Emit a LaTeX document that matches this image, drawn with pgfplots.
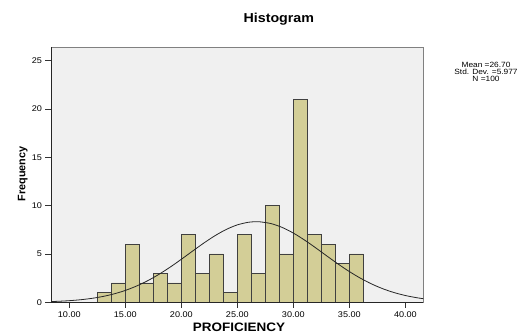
\documentclass[border=0pt]{standalone}
\usepackage{pgfplots}
\pgfplotsset{compat=1.18}
\usepackage{fontspec}
\setmainfont{Liberation Sans}[FakeStretch=1.1]
\newfontfamily\plainsans{Liberation Sans}
\definecolor{barfill}{RGB}{211,206,151}
\definecolor{plotbg}{RGB}{240,240,240}
\begin{document}
\begin{tikzpicture}
\useasboundingbox (0,0) rectangle (528bp,336bp);
\begin{axis}[
  at={(51bp,33.7bp)}, anchor=south west,
  scale only axis, width=372.3bp, height=255bp,
  xmin=8.366, xmax=41.6, ymin=0, ymax=26.39,
  axis background/.style={fill=plotbg},
  axis line style={draw=black!50, line width=0.8pt},
  xtick={10,15,20,25,30,35,40},
  xticklabels={10.00,15.00,20.00,25.00,30.00,35.00,40.00},
  ytick={0,5,10,15,20,25},
  tick align=outside, tick pos=left,
  major tick length=5.5bp,
  tick style={black!80, line width=0.6pt},
  ticklabel style={font=\fontsize{8.3}{9}\selectfont},
  /pgf/number format/assume math mode=true,
  title={Histogram},
  title style={at={(axis description cs:0.612,1.088)}, anchor=center, font=\bfseries\fontsize{13}{15}\selectfont},
  xlabel={PROFICIENCY},
  xlabel style={at={(axis description cs:0.505,-0.098)}, anchor=center, font=\bfseries\fontsize{12.3}{14}\selectfont},
  ylabel={Frequency},
  ylabel style={at={(axis description cs:-0.076,0.503)}, anchor=center, font=\plainsans\bfseries\fontsize{10.9}{12}\selectfont},
]
\addplot[ybar interval, fill=barfill, draw=black!75, line width=0.8pt] coordinates {
  (12.5,1) (13.75,2) (15,6) (16.25,2) (17.5,3) (18.75,2) (20,7) (21.25,3)
  (22.5,5) (23.75,1) (25,7) (26.25,3) (27.5,10) (28.75,5) (30,21) (31.25,7)
  (32.5,6) (33.75,4) (35,5) (36.25,5)
};
\addplot[smooth, black!85, line width=0.8pt] coordinates {
  (8.4,0.077) (9,0.104) (10,0.168) (11,0.265) (12,0.406) (13,0.603) (14,0.873)
  (15,1.228) (16,1.681) (17,2.236) (18,2.893) (19,3.638) (20,4.451) (21,5.295)
  (22,6.125) (23,6.888) (24,7.534) (25,8.013) (26,8.286) (26.7,8.343) (27,8.332)
  (28,8.148) (29,7.748) (30,7.164) (31,6.441) (32,5.631) (33,4.787) (34,3.957)
  (35,3.181) (36,2.487) (37,1.890) (38,1.397) (39,1.004) (40,0.702) (41,0.477)
  (41.6,0.373)
};
\draw[black!85, line width=0.8pt] (rel axis cs:0,1) -- (rel axis cs:0,0) -- (rel axis cs:1,0);
\end{axis}
\node[align=center, inner sep=0pt, font=\fontsize{7.6}{7}\selectfont] at (486bp,264.5bp)
  {Mean =26.70\\Std. Dev. =5.977\\N =100};
\end{tikzpicture}
\end{document}
